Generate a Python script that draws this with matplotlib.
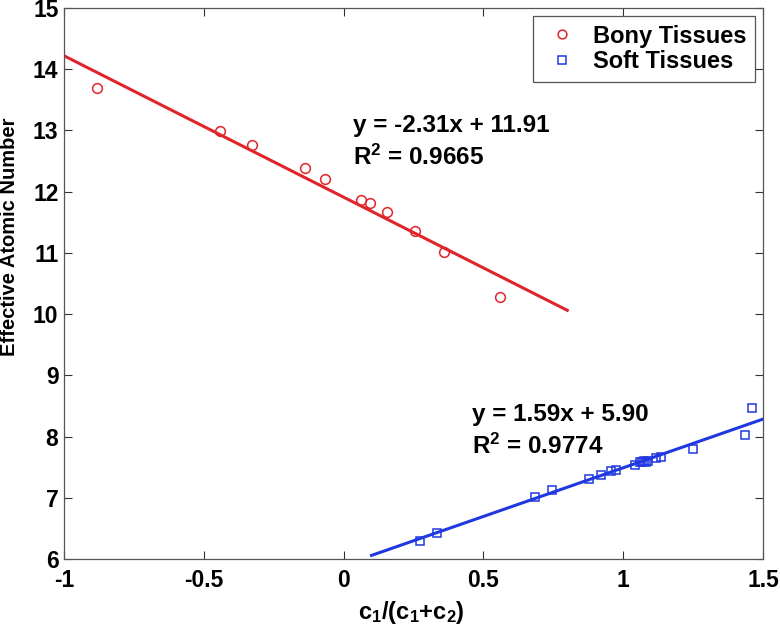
import matplotlib
matplotlib.use("Agg")
import matplotlib.pyplot as plt
import numpy as np

plt.rcParams['font.family'] = ['Liberation Sans', 'DejaVu Sans']
plt.rcParams['font.weight'] = 'bold'
plt.rcParams['mathtext.fontset'] = 'custom'
plt.rcParams['mathtext.rm'] = 'Liberation Sans:bold'
plt.rcParams['mathtext.it'] = 'Liberation Sans:bold'
plt.rcParams['mathtext.bf'] = 'Liberation Sans:bold'

bony_x = [-0.881, -0.443, -0.329, -0.139, -0.066, 0.062, 0.094, 0.154, 0.255, 0.360, 0.559]
bony_y = [13.69, 12.99, 12.76, 12.38, 12.21, 11.86, 11.81, 11.66, 11.36, 11.02, 10.28]

soft_x = [0.274, 0.334, 0.685, 0.747, 0.876, 0.920, 0.957, 0.976, 1.042, 1.060,
          1.068, 1.075, 1.082, 1.090, 1.119, 1.134, 1.248, 1.434, 1.462]
soft_y = [6.30, 6.42, 7.02, 7.13, 7.31, 7.37, 7.44, 7.45, 7.54, 7.58,
          7.59, 7.60, 7.59, 7.60, 7.65, 7.67, 7.80, 8.03, 8.46]

bony_fit = (-2.31, 11.91)
soft_fit = (1.59, 5.90)
bony_fit_range = (-1.0, 0.8)
soft_fit_range = (0.1, 1.5)

xticks = [-1, -0.5, 0, 0.5, 1, 1.5]
xticklabels = ['-1', '-0.5', '0', '0.5', '1', '1.5']
yticks = list(range(6, 16))

red = '#e0242b'
blue = '#2038e0'

fig = plt.figure(figsize=(7.8, 6.27), dpi=100)
ax = fig.add_axes([64/780, 1-559/627, (763-64)/780, (559-8)/627])

ax.plot(bony_x, bony_y, 'o', mfc='none', mec=red, ms=7, mew=1.1, label='Bony Tissues')
ax.plot(soft_x, soft_y, 's', mfc='none', mec=blue, ms=6, mew=1.1, label='Soft Tissues')

xb = np.array(bony_fit_range)
ax.plot(xb, bony_fit[0]*xb + bony_fit[1], '-', color=red, lw=2.2)
xs = np.array(soft_fit_range)
ax.plot(xs, soft_fit[0]*xs + soft_fit[1], '-', color=blue, lw=2.2)

ax.text(0.035, 12.98, 'y = -2.31x + 11.91', fontsize=17.5, fontweight='bold')
ax.text(0.035, 12.43, 'R$^2$ = 0.9665', fontsize=17.5, fontweight='bold')
ax.text(0.459, 8.25, 'y = 1.59x + 5.90', fontsize=17.5, fontweight='bold')
ax.text(0.459, 7.72, 'R$^2$ = 0.9774', fontsize=17.5, fontweight='bold')

ax.set_xlim(-1, 1.5)
ax.set_ylim(6, 15)
ax.set_xticks(xticks)
ax.set_xticklabels(xticklabels)
ax.set_yticks(yticks)
ax.tick_params(direction='in', top=True, right=True, length=6, width=0.8,
               labelsize=16.5, color='#333333')
ax.tick_params(axis='x', pad=7.5)
ax.tick_params(axis='y', pad=4)
for lab in ax.get_xticklabels() + ax.get_yticklabels():
    lab.set_fontweight('bold')
for s in ax.spines.values():
    s.set_color('#555555')
    s.set_linewidth(0.9)

ax.set_xlabel('c$_1$/(c$_1$+c$_2$)', fontsize=17, fontweight='bold', va='center')
ax.xaxis.set_label_coords(0.497, -0.098)
ax.set_ylabel('Effective Atomic Number', fontsize=14.5, fontweight='bold', va='center')
ax.yaxis.set_label_coords(-0.078, 0.585)

leg = ax.legend(loc='upper right', fontsize=17, fancybox=False, framealpha=1,
                edgecolor='#555555', borderaxespad=0.35, handlelength=1.8,
                handletextpad=0.4, borderpad=0.35, labelspacing=0.12, markerscale=0.9)
leg.get_frame().set_linewidth(0.9)

fig.savefig('out.png', dpi=100)
